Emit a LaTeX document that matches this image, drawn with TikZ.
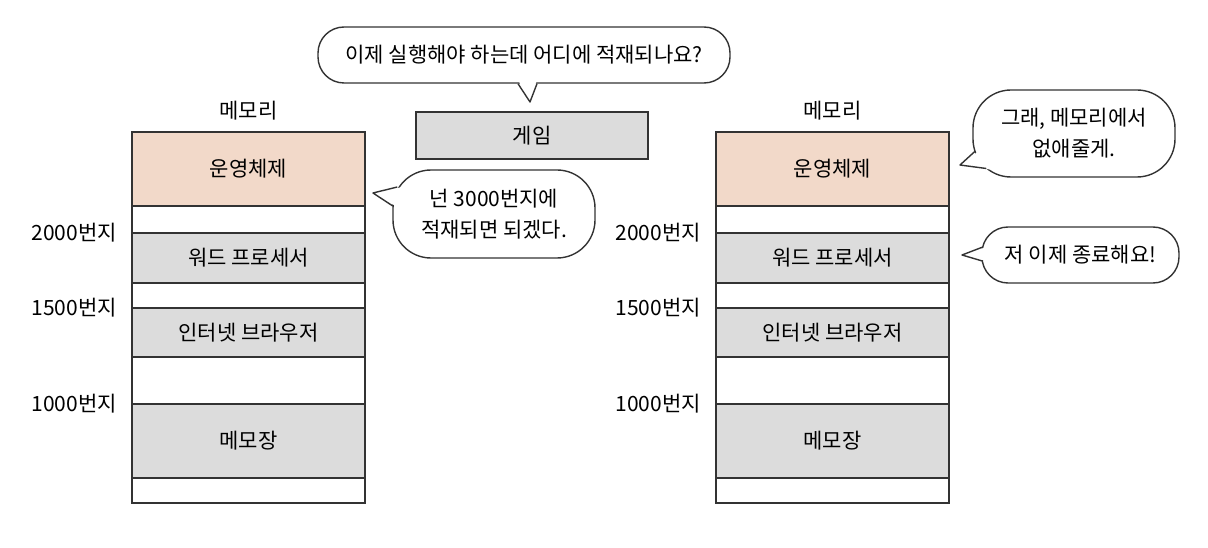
\documentclass[tikz,border=0pt]{standalone}
\usepackage{fontspec}
\setmainfont{Noto Sans CJK KR}
\usetikzlibrary{positioning}
\definecolor{osfill}{HTML}{F2D9C9}
\definecolor{appfill}{HTML}{DCDCDC}
\definecolor{ink}{HTML}{333333}
\tikzset{
  seg/.style={draw=ink, line width=1.4pt, minimum width=233pt, inner sep=0pt, outer sep=0pt, font=\fontsize{21}{25}\selectfont},
  addr/.style={inner sep=0pt, font=\fontsize{21}{25}\selectfont},
  bubble/.style={draw=ink, line width=1.4pt, fill=white, align=center, inner sep=0pt, font=\fontsize{21}{31}\selectfont},
  tail/.style={draw=ink, line width=1.4pt, line join=round}
}
\begin{document}
\begin{tikzpicture}[x=1pt,y=-1pt]
  \useasboundingbox (0,0) rectangle (1208,548);
  \node[seg, fill=osfill, minimum height=74pt] (os1) at (248.5,169) {운영체제};
  \node[seg, minimum height=27pt, below=0pt of os1] (free1a) {};
  \node[seg, fill=appfill, minimum height=50pt, below=0pt of free1a] (word1) {워드 프로세서};
  \node[seg, minimum height=25pt, below=0pt of word1] (free1b) {};
  \node[seg, fill=appfill, minimum height=49pt, below=0pt of free1b] (web1) {인터넷 브라우저};
  \node[seg, minimum height=47pt, below=0pt of web1] (free1c) {};
  \node[seg, fill=appfill, minimum height=74pt, below=0pt of free1c] (memo1) {메모장};
  \node[seg, minimum height=25pt, below=0pt of memo1] (free1d) {};
  \node[addr, above=12pt of os1] (title1) {메모리};
  \node[addr, left=15pt of word1.north west] (a2000l) {2000번지};
  \node[addr, left=15pt of web1.north west] (a1500l) {1500번지};
  \node[addr, left=15pt of memo1.north west] (a1000l) {1000번지};

  \node[seg, fill=osfill, minimum height=74pt] (os2) at (832.5,169) {운영체제};
  \node[seg, minimum height=27pt, below=0pt of os2] (free2a) {};
  \node[seg, fill=appfill, minimum height=50pt, below=0pt of free2a] (word2) {워드 프로세서};
  \node[seg, minimum height=25pt, below=0pt of word2] (free2b) {};
  \node[seg, fill=appfill, minimum height=49pt, below=0pt of free2b] (web2) {인터넷 브라우저};
  \node[seg, minimum height=47pt, below=0pt of web2] (free2c) {};
  \node[seg, fill=appfill, minimum height=74pt, below=0pt of free2c] (memo2) {메모장};
  \node[seg, minimum height=25pt, below=0pt of memo2] (free2d) {};
  \node[addr, above=12pt of os2] (title2) {메모리};
  \node[addr, left=15pt of word2.north west] (a2000r) {2000번지};
  \node[addr, left=15pt of web2.north west] (a1500r) {1500번지};
  \node[addr, left=15pt of memo2.north west] (a1000r) {1000번지};

  \node[seg, fill=appfill, minimum width=232pt, minimum height=47pt] (game) at (532,135.5) {게임};

  \node[bubble, rounded corners=26pt, minimum width=412pt, minimum height=56pt] (ask) at (524,55) {이제 실행해야 하는데 어디에 적재되나요?};
  \coordinate (askTip) at (530,102);
  \fill[white] ([xshift=-6pt,yshift=4pt]ask.south) -- (askTip) -- ([xshift=13pt,yshift=4pt]ask.south) -- cycle;
  \draw[tail] ([xshift=-6pt]ask.south) -- (askTip) -- ([xshift=13pt]ask.south);

  \node[bubble, rounded corners=38pt, minimum width=202pt, minimum height=88pt] (place) at (494,214) {넌 3000번지에\\적재되면 되겠다.};
  \coordinate (placeTip) at (373,193);
  \fill[white] ([xshift=10pt,yshift=27pt]place.west) -- (placeTip) -- ([xshift=5pt,yshift=7pt]place.west) -- cycle;
  \draw[tail] ([xshift=5pt,yshift=27pt]place.west) -- (placeTip) -- ([xshift=0.5pt,yshift=8pt]place.west);

  \node[bubble, rounded corners=38pt, minimum width=202pt, minimum height=87pt] (erase) at (1074,133.5) {그래, 메모리에서\\없애줄게.};
  \coordinate (eraseTip) at (960,165);
  \fill[white] ([xshift=7pt,yshift=-17pt]erase.west) -- (eraseTip) -- ([xshift=18pt,yshift=-36pt]erase.west) -- cycle;
  \draw[tail] ([xshift=2.5pt,yshift=-18pt]erase.west) -- (eraseTip) -- ([xshift=14pt,yshift=-35pt]erase.west);

  \node[bubble, rounded corners=26pt, minimum width=197pt, minimum height=56pt] (quit) at (1080.5,255) {저 이제 종료해요!};
  \coordinate (quitTip) at (962,255);
  \fill[white] ([xshift=5pt,yshift=8pt]quit.west) -- (quitTip) -- ([xshift=5pt,yshift=-6pt]quit.west) -- cycle;
  \draw[tail] ([xshift=1.5pt,yshift=8pt]quit.west) -- (quitTip) -- ([xshift=1pt,yshift=-6pt]quit.west);
\end{tikzpicture}
\end{document}
